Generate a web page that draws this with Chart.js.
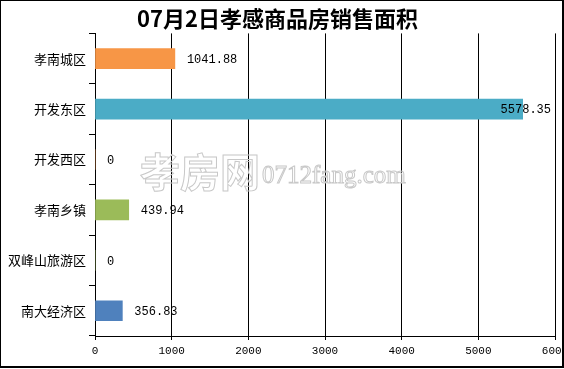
<!DOCTYPE html>
<html>
<head>
<meta charset="utf-8">
<script src="https://cdn.jsdelivr.net/npm/chart.js@4/dist/chart.umd.min.js"></script>
<style>
  html, body { margin: 0; padding: 0; background: #fff; }
  #wrap { position: relative; width: 564px; height: 369px; }
</style>
</head>
<body>
<div id="wrap"><canvas id="areaChart" width="564" height="369"></canvas></div>
<script>
const chartTitle = '07月2日孝感商品房销售面积';
const districts = ['孝南城区', '开发东区', '开发西区', '孝南乡镇', '双峰山旅游区', '南大经济区'];
const salesArea = [1041.88, 5578.35, 0, 439.94, 0, 356.83];
const barColors = ['#F79646', '#4BACC6', '#F79646', '#9BBB59', '#9BBB59', '#4F81BD'];
const xTicks = [0, 1000, 2000, 3000, 4000, 5000, 6000];

const monoFont = '"Liberation Mono", "DejaVu Sans Mono", monospace';

// outer frame + watermark + value labels
const decorations = {
    id: 'decorations',
    beforeDatasetsDraw(chart) {
        const ctx = chart.ctx;
        ctx.save();
        ctx.strokeStyle = '#c8c8c8';
        ctx.lineWidth = 1;
        ctx.textBaseline = 'middle';
        ctx.font = 'bold 40px "Noto Sans CJK SC"';
        ctx.strokeText('孝房网', 140, 172);
        ctx.font = '25px "Liberation Serif", serif';
        ctx.strokeText('0712fang.com', 262, 176);
        ctx.restore();
    },
    afterDatasetsDraw(chart) {
        const ctx = chart.ctx;
        const meta = chart.getDatasetMeta(0);
        const area = chart.chartArea;
        ctx.save();
        ctx.font = '12px ' + monoFont;
        ctx.fillStyle = '#000';
        ctx.textBaseline = 'middle';
        ctx.textAlign = 'left';
        meta.data.forEach((bar, i) => {
            const txt = String(salesArea[i]);
            const w = ctx.measureText(txt).width;
            let x = bar.x + 12;
            if (x + w > area.right - 4) x = area.right - 4 - w;
            ctx.fillText(txt, x, bar.y + 1);
        });
        ctx.restore();
    },
    afterDraw(chart) {
        const ctx = chart.ctx;
        ctx.save();
        ctx.strokeStyle = '#000';
        ctx.lineWidth = 1;
        ctx.strokeRect(0.5, 0.5, 562, 366);
        ctx.fillStyle = '#000';
        ctx.fillRect(0, 366, 564, 2);
        ctx.fillRect(562, 0, 2, 368);
        ctx.restore();
    }
};

new Chart(document.getElementById('areaChart'), {
    type: 'bar',
    data: {
        labels: districts,
        datasets: [{
            data: salesArea,
            backgroundColor: barColors,
            borderWidth: 0,
            barThickness: 20
        }]
    },
    options: {
        indexAxis: 'y',
        responsive: false,
        animation: false,
        devicePixelRatio: 1,
        layout: { padding: { left: 0, right: 9, top: 0, bottom: 10 } },
        scales: {
            x: {
                min: 0,
                max: 6000,
                afterBuildTicks(scale) {
                    scale.ticks = xTicks.map(v => ({ value: v }));
                },
                afterFit(scale) {
                    scale.paddingLeft = 0;
                    scale.paddingRight = 0;
                    scale.height = 23;
                },
                grid: { color: '#000', lineWidth: 1, tickLength: 4, drawTicks: true },
                border: { display: true, color: '#000', width: 1 },
                ticks: {
                    color: '#000',
                    padding: 4,
                    maxRotation: 0,
                    autoSkip: false,
                    font: { family: monoFont, size: 11 },
                    callback: v => String(v)
                }
            },
            y: {
                afterFit(scale) {
                    scale.width = 95;
                },
                grid: { display: true, drawOnChartArea: false, color: '#000', tickLength: 6, offset: true },
                border: { display: true, color: '#000', width: 1 },
                ticks: {
                    color: '#000',
                    padding: 3,
                    font: { family: '"Noto Sans CJK SC"', size: 13 }
                }
            }
        },
        plugins: {
            legend: { display: false },
            tooltip: { enabled: false },
            title: {
                display: true,
                text: chartTitle,
                color: '#000',
                font: { family: '"Noto Sans CJK SC"', size: 22, weight: 'bold' },
                padding: { top: 5, bottom: 2 }
            }
        }
    },
    plugins: [decorations]
});
</script>
</body>
</html>
